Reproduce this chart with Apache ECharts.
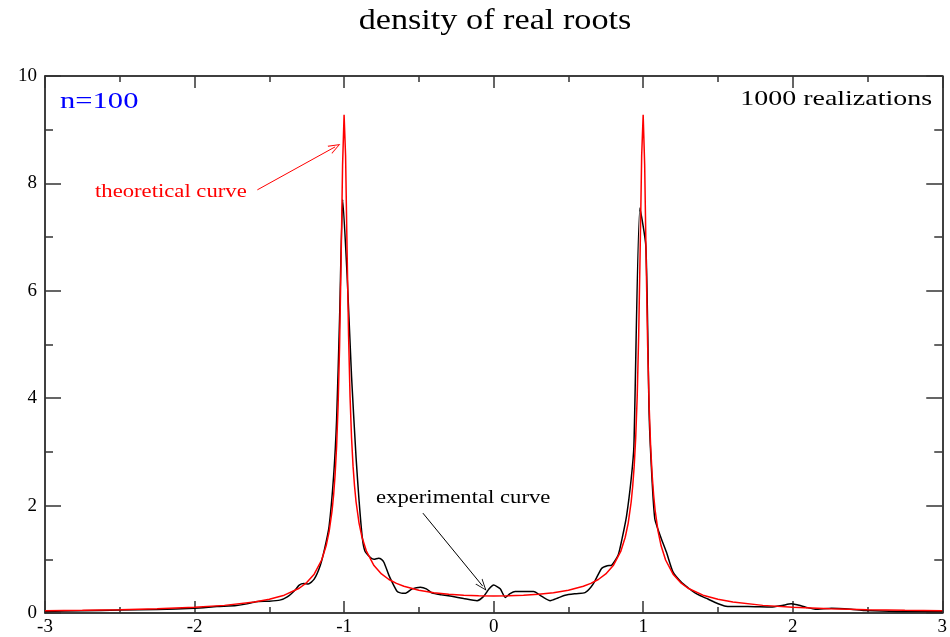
<!DOCTYPE html>
<html>
<head>
<meta charset="utf-8">
<script src="https://cdn.jsdelivr.net/npm/echarts@6/dist/echarts.min.js"></script>
<style>html,body{margin:0;padding:0;background:#fff;}#c{width:950px;height:637px;}</style>
</head>
<body>
<div id="c"></div>
<script>
// Theoretical curve (red)
const theoX = [-3.0,-2.75,-2.5,-2.25,-2.0,-1.8,-1.6,-1.5,-1.4,-1.3,-1.25,-1.2,-1.15,-1.12,-1.1,-1.08,-1.07,-1.06,-1.05,-1.04,-1.03,-1.02,-1.01,-1.0,-0.99,-0.98,-0.97,-0.96,-0.95,-0.94,-0.93,-0.92,-0.9,-0.88,-0.85,-0.8,-0.75,-0.7,-0.65,-0.6,-0.5,-0.4,-0.3,-0.2,-0.1,0.0,0.1,0.2,0.3,0.4,0.5,0.6,0.65,0.7,0.75,0.8,0.85,0.88,0.9,0.92,0.93,0.94,0.95,0.96,0.97,0.98,0.99,1.0,1.01,1.02,1.03,1.04,1.05,1.06,1.07,1.08,1.1,1.12,1.15,1.2,1.25,1.3,1.4,1.5,1.6,1.8,2.0,2.25,2.5,2.75,3.0];
const theoY = [0.040,0.049,0.061,0.078,0.106,0.142,0.204,0.255,0.332,0.461,0.566,0.723,0.987,1.251,1.516,1.913,2.197,2.574,3.10,3.86,4.98,6.57,8.35,9.28,8.52,6.77,5.17,4.02,3.26,2.735,2.36,2.072,1.675,1.411,1.147,0.884,0.728,0.624,0.551,0.497,0.424,0.379,0.350,0.332,0.322,0.318,0.322,0.332,0.350,0.379,0.424,0.497,0.551,0.624,0.728,0.884,1.147,1.411,1.675,2.072,2.36,2.735,3.26,4.02,5.17,6.77,8.52,9.28,8.35,6.57,4.98,3.86,3.10,2.574,2.197,1.913,1.516,1.251,0.987,0.723,0.566,0.461,0.332,0.255,0.204,0.142,0.106,0.078,0.061,0.049,0.040];

// Experimental curve (black), 1000 realizations
const expX = [-3.0,-2.75,-2.5,-2.25,-2.0,-1.85,-1.72,-1.65,-1.59,-1.5,-1.43,-1.38,-1.33,-1.30,-1.27,-1.24,-1.20,-1.16,-1.13,-1.10,-1.07,-1.05,-1.03,-1.009,-0.98,-0.95,-0.92,-0.9,-0.878,-0.86,-0.822,-0.80,-0.77,-0.75,-0.733,-0.70,-0.678,-0.644,-0.611,-0.589,-0.544,-0.49,-0.45,-0.41,-0.35,-0.28,-0.2,-0.111,-0.067,-0.03,0.0,0.044,0.078,0.11,0.144,0.267,0.322,0.378,0.43,0.478,0.55,0.611,0.65,0.678,0.722,0.76,0.789,0.833,0.86,0.889,0.92,0.938,0.978,1.018,1.04,1.06,1.078,1.10,1.122,1.156,1.2,1.256,1.3,1.344,1.4,1.433,1.478,1.544,1.6,1.7,1.856,1.93,1.99,2.05,2.1,2.15,2.26,2.39,2.48,2.7,3.0];
const expY = [0.03,0.04,0.055,0.065,0.09,0.12,0.14,0.17,0.21,0.22,0.24,0.30,0.42,0.52,0.55,0.54,0.63,0.88,1.20,1.62,2.55,3.6,5.5,7.70,6.30,4.40,2.90,2.10,1.40,1.15,1.03,1.00,1.02,1.00,0.94,0.70,0.57,0.40,0.37,0.37,0.45,0.48,0.45,0.37,0.34,0.31,0.27,0.23,0.31,0.45,0.52,0.45,0.29,0.36,0.40,0.40,0.31,0.23,0.28,0.33,0.36,0.38,0.48,0.60,0.83,0.88,0.89,1.08,1.40,1.81,2.5,3.11,7.54,6.83,3.7,2.45,1.75,1.55,1.38,1.13,0.76,0.57,0.47,0.38,0.30,0.26,0.20,0.13,0.12,0.12,0.11,0.14,0.17,0.14,0.10,0.07,0.09,0.07,0.045,0.03,0.03];

const xTicks = { min: -3, max: 3, interval: 1 };
const yTicks = { min: 0, max: 10, interval: 2 };

const serif = "'Liberation Serif','DejaVu Serif','Times New Roman',serif";
const theoData = theoX.map((x, i) => [x, theoY[i]]);
const expData = expX.map((x, i) => [x, expY[i]]);

const axisLineStyle = { show: true, onZero: false, lineStyle: { color: '#000', width: 1.5 } };

const chart = echarts.init(document.getElementById('c'), null, { renderer: 'canvas' });
const chevron = 'path://M0,10 L5,0 L10,10 L9,10 L5,2 L1,10 Z';

chart.setOption({
  backgroundColor: '#fff',
  animation: false,
  grid: { left: 45, right: 7, top: 76, bottom: 23, containLabel: false },
  xAxis: [
    { type: 'value', position: 'bottom', min: xTicks.min, max: xTicks.max, interval: xTicks.interval,
      axisLine: axisLineStyle,
      axisTick: { show: true, inside: true, length: 12, lineStyle: { color: '#333', width: 1.5 } },
      minorTick: { show: true, splitNumber: 2, length: 6, lineStyle: { color: '#333', width: 1.5 } },
      splitLine: { show: false },
      axisLabel: { show: true, margin: 5, color: '#000', fontSize: 19, fontFamily: serif } },
    { type: 'value', position: 'top', min: xTicks.min, max: xTicks.max, interval: xTicks.interval,
      axisLine: axisLineStyle,
      axisTick: { show: true, inside: true, length: 12, lineStyle: { color: '#333', width: 1.5 } },
      minorTick: { show: true, splitNumber: 2, length: 6, lineStyle: { color: '#333', width: 1.5 } },
      splitLine: { show: false }, axisLabel: { show: false } }
  ],
  yAxis: [
    { type: 'value', position: 'left', min: yTicks.min, max: yTicks.max, interval: yTicks.interval,
      axisLine: axisLineStyle,
      axisTick: { show: true, inside: true, length: 16, lineStyle: { color: '#333', width: 1.5 } },
      minorTick: { show: true, splitNumber: 2, length: 8, lineStyle: { color: '#333', width: 1.5 } },
      splitLine: { show: false },
      axisLabel: { show: true, margin: 8, color: '#000', fontSize: 19, fontFamily: serif } },
    { type: 'value', position: 'right', min: yTicks.min, max: yTicks.max, interval: yTicks.interval,
      axisLine: axisLineStyle,
      axisTick: { show: true, inside: true, length: 16, lineStyle: { color: '#333', width: 1.5 } },
      minorTick: { show: true, splitNumber: 2, length: 8, lineStyle: { color: '#333', width: 1.5 } },
      splitLine: { show: false }, axisLabel: { show: false } }
  ],
  series: [
    { name: 'experimental curve', type: 'line', xAxisIndex: 0, yAxisIndex: 0, data: expData,
      showSymbol: false, smooth: 0.2, lineStyle: { color: '#000', width: 1.5 }, z: 2,
      markLine: { silent: true, symbol: ['none', chevron], symbolSize: [9, 12],
        lineStyle: { color: '#000', width: 1, type: 'solid' }, label: { show: false },
        data: [[{ coord: [-0.473, 1.86] }, { coord: [-0.073, 0.50] }]] } },
    { name: 'theoretical curve', type: 'line', xAxisIndex: 0, yAxisIndex: 0, data: theoData,
      showSymbol: false, smooth: false, lineStyle: { color: '#ff0000', width: 1.5 }, z: 3,
      markLine: { silent: true, symbol: ['none', chevron], symbolSize: [9, 12],
        lineStyle: { color: '#ff0000', width: 1, type: 'solid' }, label: { show: false },
        data: [[{ coord: [-1.58, 7.88] }, { coord: [-1.06, 8.68] }]] } }
  ],
  graphic: [
    { type: 'text', x: 495, y: 21, scaleX: 1.18, silent: true,
      style: { text: 'density of real roots', font: '29px ' + serif, fill: '#000', align: 'center', verticalAlign: 'middle', textAlign: 'center', textVerticalAlign: 'middle' } },
    { type: 'text', x: 60, y: 102, scaleX: 1.33, silent: true,
      style: { text: 'n=100', font: '23px ' + serif, fill: '#0000ff', align: 'left', verticalAlign: 'middle', textAlign: 'left', textVerticalAlign: 'middle' } },
    { type: 'text', x: 932, y: 99, scaleX: 1.27, silent: true,
      style: { text: '1000 realizations', font: '22px ' + serif, fill: '#000', align: 'right', verticalAlign: 'middle', textAlign: 'right', textVerticalAlign: 'middle' } },
    { type: 'text', x: 95, y: 192, scaleX: 1.26, silent: true,
      style: { text: 'theoretical curve', font: '18px ' + serif, fill: '#ff0000', align: 'left', verticalAlign: 'middle', textAlign: 'left', textVerticalAlign: 'middle' } },
    { type: 'text', x: 376, y: 498, scaleX: 1.26, silent: true,
      style: { text: 'experimental curve', font: '18px ' + serif, fill: '#000', align: 'left', verticalAlign: 'middle', textAlign: 'left', textVerticalAlign: 'middle' } }
  ]
});
</script>
</body>
</html>
